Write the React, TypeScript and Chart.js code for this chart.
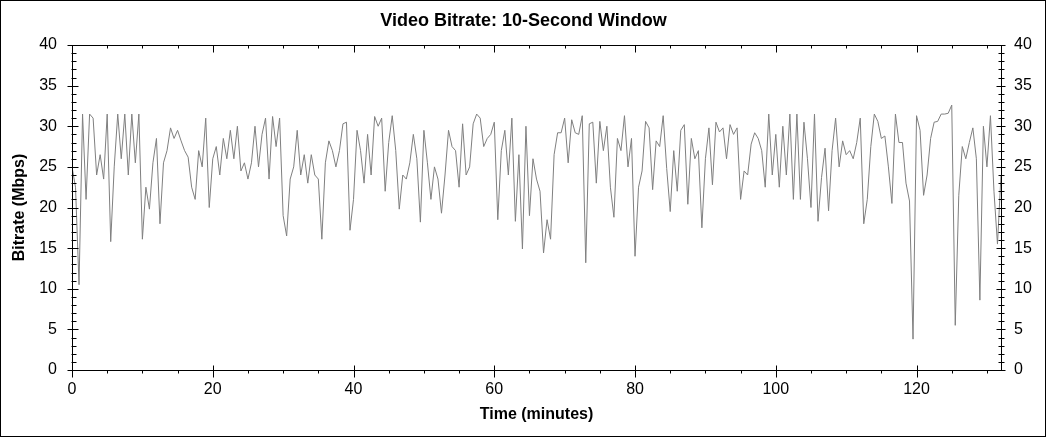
import { useEffect, useRef } from 'react';
import { Chart, registerables } from 'chart.js';

Chart.register(...registerables);

// ---- Data (one value every half minute) ----
const TITLE = 'Video Bitrate: 10-Second Window';
const X_TITLE = 'Time (minutes)';
const Y_TITLE = 'Bitrate (Mbps)';
const STEP_MINUTES = 0.5;
const X_MIN = 0;
const X_MAX = 132;
const X_TICK_STEP = 20;
const X_MINOR_STEP = 5;
const Y_MIN = 0;
const Y_MAX = 40;
const Y_TICK_STEP = 5;
const Y_MINOR_STEP = 1;

// minutes 0 .. 22
const BITRATE_SEG1 = [
  25, 22.5, 10.5, 31.5, 21, 31.5, 31, 24, 26.5, 23.5, 31.5, 15.8, 25, 31.5, 26, 31.5, 24, 31.5, 25.5, 31.5,
  16.1, 22.5, 19.8, 25.5, 28.5, 18, 25.5, 27, 29.8, 28.5, 29.5, 28.2, 27, 26.2, 22.5, 21, 27, 25, 31, 20,
  26, 27.5, 24, 28.5, 26,
];
// minutes 22.5 .. 44
const BITRATE_SEG2 = [
  29.5, 26, 30, 24.5, 25.5, 23.5, 25.5, 30, 25, 29, 31, 23.5, 31.2, 27.5, 31, 19, 16.5, 23.5, 25, 29.5,
  24, 26.5, 23, 26.5, 24, 23.5, 16.1, 25.5, 28.2, 27, 25, 27, 30.3, 30.5, 17.2, 21, 29.5, 27, 23, 29,
  24, 31.2, 30, 31,
];
// minutes 44.5 .. 66
const BITRATE_SEG3 = [
  22, 28, 31.3, 27, 19.8, 24, 23.5, 25.5, 29, 26, 18.2, 29.5, 25.5, 21, 25, 23.5, 19.3, 24, 29.5, 27.5,
  27, 22.5, 30.3, 24, 25, 30.3, 31.5, 31, 27.5, 28.5, 29, 30.5, 18.5, 27, 29.5, 24, 31, 18.3, 26.5, 14.9,
  30, 19, 26, 23.5,
];
// minutes 66.5 .. 88
const BITRATE_SEG4 = [
  22, 14.4, 18.5, 16.1, 26.5, 29.2, 29.2, 31, 25.5, 30.8, 29.2, 29, 31.3, 13.2, 30.3, 30.5, 23, 30.6, 27, 30,
  22.5, 18.8, 28.5, 27, 31.3, 25, 28.5, 14, 22.5, 24.5, 30.6, 29.8, 22.2, 28.2, 27.5, 31.3, 24.8, 19.5, 27, 22,
  29.5, 30.2, 20.4, 28.5,
];
// minutes 88.5 .. 110
const BITRATE_SEG5 = [
  26, 27, 17.5, 26, 29.8, 22.8, 30.5, 29.3, 29.8, 26, 30.2, 29, 29.8, 21, 24.5, 24, 27.8, 29.2, 28.5, 27,
  22.5, 31.5, 24, 29, 22.5, 30, 24, 31.5, 21, 31.5, 21, 30.5, 26, 20, 31.5, 18.3, 23.7, 27.3, 19.6, 27,
  31, 25, 28.2, 26.5,
];
// minutes 110.5 .. 132
const BITRATE_SEG6 = [
  27, 26, 28, 31, 18, 21, 27.5, 31.5, 30.6, 28.5, 28.8, 25, 20.5, 31.5, 28, 28, 23, 20.8, 3.8, 31.3,
  29.5, 21.5, 24, 28.5, 30.5, 30.6, 31.5, 31.5, 31.6, 32.6, 5.5, 21.5, 27.5, 26, 28, 29.8, 26, 8.6, 30, 25,
  31.3, 22, 15.5, 24,
];

const BITRATE: number[] = [
  ...BITRATE_SEG1,
  ...BITRATE_SEG2,
  ...BITRATE_SEG3,
  ...BITRATE_SEG4,
  ...BITRATE_SEG5,
  ...BITRATE_SEG6,
];

const FONT = '"Liberation Sans", Arial, Helvetica, sans-serif';

const framePlugin = {
  id: 'frameAndTicks',
  afterDatasetsDraw(chart: any) {
    const { ctx, chartArea, scales } = chart;
    const xs = scales.x;
    const ys = scales.y;
    const L = Math.round(chartArea.left) + 0.5;
    const R = Math.round(chartArea.right) + 0.5;
    const T = Math.round(chartArea.top) + 0.5;
    const B = Math.round(chartArea.bottom) + 0.5;
    ctx.save();
    ctx.strokeStyle = '#000';
    ctx.lineWidth = 1;
    ctx.beginPath();
    ctx.rect(L, T, R - L, B - T);
    for (let v = X_MIN; v <= X_MAX + 1e-9; v += X_MINOR_STEP) {
      const px = Math.round(xs.getPixelForValue(v)) + 0.5;
      const major = Math.abs(v / X_TICK_STEP - Math.round(v / X_TICK_STEP)) < 1e-9;
      if (major) {
        ctx.moveTo(px, B - 5); ctx.lineTo(px, B + 7);
        ctx.moveTo(px, T); ctx.lineTo(px, T + 7);
      } else {
        ctx.moveTo(px, B); ctx.lineTo(px, B + 3);
        ctx.moveTo(px, T); ctx.lineTo(px, T + 3);
      }
    }
    for (let v = Y_MIN; v <= Y_MAX + 1e-9; v += Y_MINOR_STEP) {
      const py = Math.round(ys.getPixelForValue(v)) + 0.5;
      const major = v % Y_TICK_STEP === 0;
      if (major) {
        ctx.moveTo(L - 5, py); ctx.lineTo(L + 6, py);
        ctx.moveTo(R - 5, py); ctx.lineTo(R + 4, py);
      } else {
        ctx.moveTo(L - 1, py); ctx.lineTo(L + 4, py);
        ctx.moveTo(R - 3, py); ctx.lineTo(R + 3, py);
      }
    }
    ctx.stroke();
    ctx.strokeRect(0.5, 0.5, chart.width - 2, chart.height - 2);
    ctx.restore();
  },
};

const whiteBg = {
  id: 'whiteBg',
  beforeDraw(chart: any) {
    const { ctx } = chart;
    ctx.save();
    ctx.fillStyle = '#fff';
    ctx.fillRect(0, 0, chart.width, chart.height);
    ctx.restore();
  },
};

export default function App() {
  const ref = useRef<HTMLCanvasElement | null>(null);

  useEffect(() => {
    if (!ref.current) return;
    const points = BITRATE.map((v, i) => ({ x: i * STEP_MINUTES, y: v }));
    const tickFont = { family: FONT, size: 16 };
    const titleFont = { family: FONT, size: 16, weight: 'bold' as const };
    const chart = new Chart(ref.current, {
      type: 'line',
      data: {
        datasets: [
          {
            data: points,
            borderColor: '#808080',
            borderWidth: 1,
            pointRadius: 0,
            tension: 0,
            fill: false,
            yAxisID: 'y',
          },
        ],
      },
      options: {
        animation: false,
        responsive: false,
        devicePixelRatio: 1,
        layout: { padding: 0 },
        plugins: {
          legend: { display: false },
          tooltip: { enabled: false },
          title: {
            display: true,
            text: TITLE,
            color: '#000',
            font: { family: FONT, size: 18, weight: 'bold' },
            padding: { top: 10.2, bottom: 13.2 },
          },
        },
        scales: {
          x: {
            type: 'linear',
            position: 'bottom',
            min: X_MIN,
            max: X_MAX,
            grid: { display: false, drawTicks: false },
            border: { display: false },
            ticks: {
              stepSize: X_TICK_STEP,
              includeBounds: false,
              color: '#000',
              font: tickFont,
              padding: 10,
              maxRotation: 0,
            },
            title: {
              display: true,
              text: X_TITLE,
              color: '#000',
              font: titleFont,
              padding: { top: 0, bottom: 13.4 },
            },
            afterFit: (s: any) => { s.height = 68; },
          },
          y: {
            type: 'linear',
            position: 'left',
            min: Y_MIN,
            max: Y_MAX,
            grid: { display: false, drawTicks: false },
            border: { display: false },
            ticks: { stepSize: Y_TICK_STEP, color: '#000', font: tickFont, padding: 15 },
            title: {
              display: true,
              text: Y_TITLE,
              color: '#000',
              font: titleFont,
              padding: { top: 10.4, bottom: 0 },
            },
            afterFit: (s: any) => { s.width = 72; },
          },
          y2: {
            type: 'linear',
            position: 'right',
            min: Y_MIN,
            max: Y_MAX,
            grid: { display: false, drawTicks: false },
            border: { display: false },
            ticks: { stepSize: Y_TICK_STEP, color: '#000', font: tickFont, padding: 13 },
            afterFit: (s: any) => { s.width = 46; },
          },
        },
      },
      plugins: [whiteBg, framePlugin],
    });
    return () => chart.destroy();
  }, []);

  return (
    <div style={{ position: 'absolute', left: 0, top: 0, width: 1047, height: 438, background: '#fff' }}>
      <canvas ref={ref} width={1047} height={438} style={{ display: 'block' }} />
    </div>
  );
}
